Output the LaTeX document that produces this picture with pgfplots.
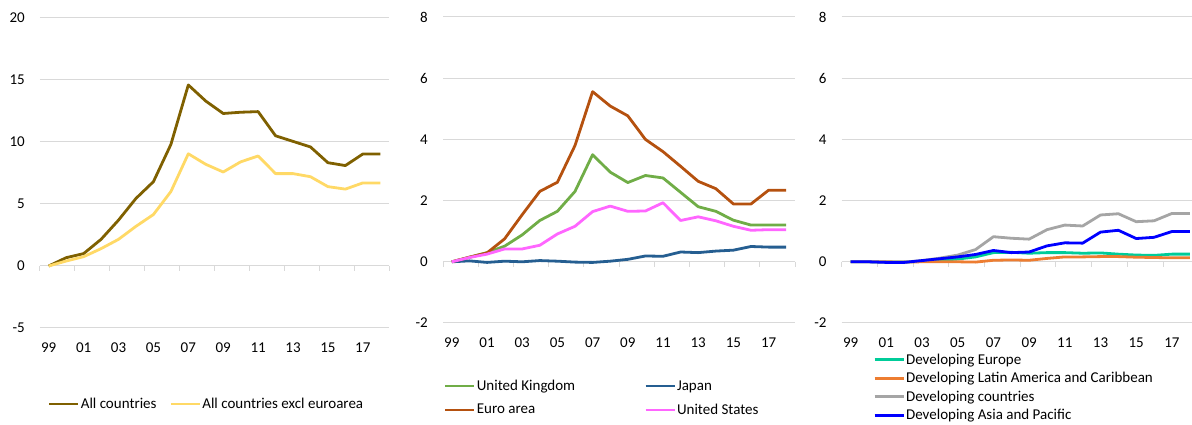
\documentclass[border=0pt]{standalone}
\usepackage{fontspec}
\setmainfont{Carlito}
\usepackage{pgfplots}
\usepackage{pgfplotstable}
\pgfplotsset{compat=1.18}

\definecolor{allc}{HTML}{7F6000}
\definecolor{exeuro}{HTML}{FFD966}
\definecolor{ukgreen}{HTML}{70AD47}
\definecolor{japan}{HTML}{255E91}
\definecolor{euro}{HTML}{B5510F}
\definecolor{usa}{HTML}{FF66FF}
\definecolor{deveur}{HTML}{00CC99}
\definecolor{devlat}{HTML}{ED7D31}
\definecolor{devall}{HTML}{A5A5A5}
\definecolor{devasia}{HTML}{0000FF}
\definecolor{gridgray}{HTML}{D9D9D9}

% x = 0 for 1999 ... 19 for 2018
\pgfplotstableread{
x  all    exeuro
0  0.00   0.00
1  0.67   0.40
2  1.00   0.75
3  2.15   1.40
4  3.70   2.15
5  5.45   3.20
6  6.80   4.15
7  9.80   6.00
8  14.60  9.05
9  13.30  8.20
10 12.30  7.58
11 12.40  8.40
12 12.45  8.87
13 10.50  7.45
14 10.05  7.45
15 9.60   7.20
16 8.33   6.40
17 8.10   6.20
18 9.03   6.70
19 9.03   6.70
}\tabAll

\pgfplotstableread{
x  uk    japan  euro   us
0  0.00  0.00   0.00   0.00
1  0.15  0.03   0.15   0.14
2  0.30  -0.02  0.29   0.25
3  0.51  0.02   0.75   0.42
4  0.88  0.00   1.54   0.42
5  1.35  0.04   2.30   0.54
6  1.65  0.02   2.60   0.91
7  2.30  -0.01  3.80   1.16
8  3.50  -0.02  5.56   1.64
9  2.93  0.02   5.09   1.82
10 2.59  0.08   4.77   1.65
11 2.82  0.19   4.00   1.66
12 2.74  0.18   3.60   1.93
13 2.27  0.32   3.12   1.35
14 1.80  0.30   2.63   1.47
15 1.65  0.35   2.39   1.34
16 1.36  0.38   1.89   1.16
17 1.20  0.50   1.89   1.03
18 1.20  0.48   2.34   1.05
19 1.20  0.48   2.34   1.05
}\tabAdv

\pgfplotstableread{
x  eur    lat    dev    asia
0  0.00   0.00   0.00   0.00
1  0.00   0.00   0.00   0.00
2  -0.01  0.00   -0.01  -0.02
3  -0.01  -0.01  -0.01  -0.02
4  0.02   0.00   0.04   0.04
5  0.05   0.00   0.12   0.10
6  0.09   0.00   0.22   0.16
7  0.16   -0.01  0.40   0.24
8  0.30   0.05   0.82   0.37
9  0.31   0.06   0.77   0.30
10 0.28   0.05   0.74   0.32
11 0.30   0.11   1.05   0.52
12 0.30   0.16   1.20   0.62
13 0.28   0.16   1.17   0.61
14 0.29   0.17   1.53   0.97
15 0.25   0.17   1.57   1.03
16 0.22   0.15   1.31   0.76
17 0.21   0.14   1.34   0.80
18 0.25   0.13   1.58   0.99
19 0.25   0.13   1.58   0.99
}\tabDev

\newcommand\chartfont{\fontsize{15}{18}\selectfont}

\pgfplotsset{
  panel/.style={
    scale only axis, anchor=south west,
    xmin=-0.5, xmax=19.5,
    xtick={0,2,...,18},
    xticklabels={99,01,03,05,07,09,11,13,15,17},
    axis line style={draw=none},
    major tick length=0pt,
    ymajorgrids,
    grid style={draw=gridgray, line width=1pt},
    /pgf/number format/assume math mode=true,
    tick label style={font=\chartfont},
    xticklabel style={anchor=center, yshift=-20pt},
    yticklabel style={anchor=east, inner sep=0pt, xshift=-15pt},
    clip=false,
    every axis plot/.append style={line width=2.8pt, line join=round, no markers},
    legend image code/.code={\draw[##1] (0pt,0pt) -- (29pt,0pt);},
    legend cell align=left,
    legend style={draw=none, fill=none, inner sep=0pt, outer sep=0pt,
      font=\chartfont, anchor=west,
      nodes={inner sep=1pt}},
  },
}

\newcommand\zeroticks{%
  \pgfplotsinvokeforeach{-0.5,1.5,...,19.5}{%
    \draw[gridgray, line width=1pt] (axis cs:##1,0) -- ([yshift=-5pt]axis cs:##1,0);}%
}

\begin{document}
\begin{tikzpicture}[font=\chartfont]
% all countries
\begin{axis}[panel,
  at={(40pt,97pt)}, width=349pt, height=310pt,
  ymin=-5, ymax=20, ytick={-5,0,5,10,15,20},
  legend columns=2,
  legend style={at={(0.023,-0.245)},
    /tikz/every even column/.append style={column sep=12pt}},
]
\zeroticks
\addplot[allc] table[x=x, y=all] {\tabAll};
\addlegendentry{All countries}
\addplot[exeuro] table[x=x, y=exeuro] {\tabAll};
\addlegendentry{All countries excl euroarea}
\end{axis}

% advanced economies
\begin{axis}[panel,
  at={(443pt,102pt)}, width=352pt, height=306pt,
  ymin=-2, ymax=8, ytick={-2,0,2,4,6,8},
  legend columns=2,
  legend style={at={(0.003,-0.245)},
    /tikz/every even column/.append style={column sep=68pt},
    row sep=10pt},
]
\zeroticks
\addplot[ukgreen] table[x=x, y=uk] {\tabAdv};
\addlegendentry{United Kingdom}
\addplot[japan] table[x=x, y=japan] {\tabAdv};
\addlegendentry{Japan}
\addplot[euro] table[x=x, y=euro] {\tabAdv};
\addlegendentry{Euro area}
\addplot[usa] table[x=x, y=us] {\tabAdv};
\addlegendentry{United States}
\end{axis}

% developing economies
\begin{axis}[panel,
  at={(841.7pt,102pt)}, width=357pt, height=306pt,
  ymin=-2, ymax=8, ytick={-2,0,2,4,6,8},
  legend columns=1,
  legend style={at={(0.0885,-0.211)}, row sep=4.6pt},
]
\zeroticks
\addplot[deveur] table[x=x, y=eur] {\tabDev};
\addlegendentry{Developing Europe}
\addplot[devlat] table[x=x, y=lat] {\tabDev};
\addlegendentry{Developing Latin America and Caribbean}
\addplot[devall] table[x=x, y=dev] {\tabDev};
\addlegendentry{Developing countries}
\addplot[devasia] table[x=x, y=asia] {\tabDev};
\addlegendentry{Developing Asia and Pacific}
\end{axis}

\pgfresetboundingbox
\useasboundingbox (0pt,0pt) rectangle (1192pt,425pt);
\end{tikzpicture}
\end{document}
